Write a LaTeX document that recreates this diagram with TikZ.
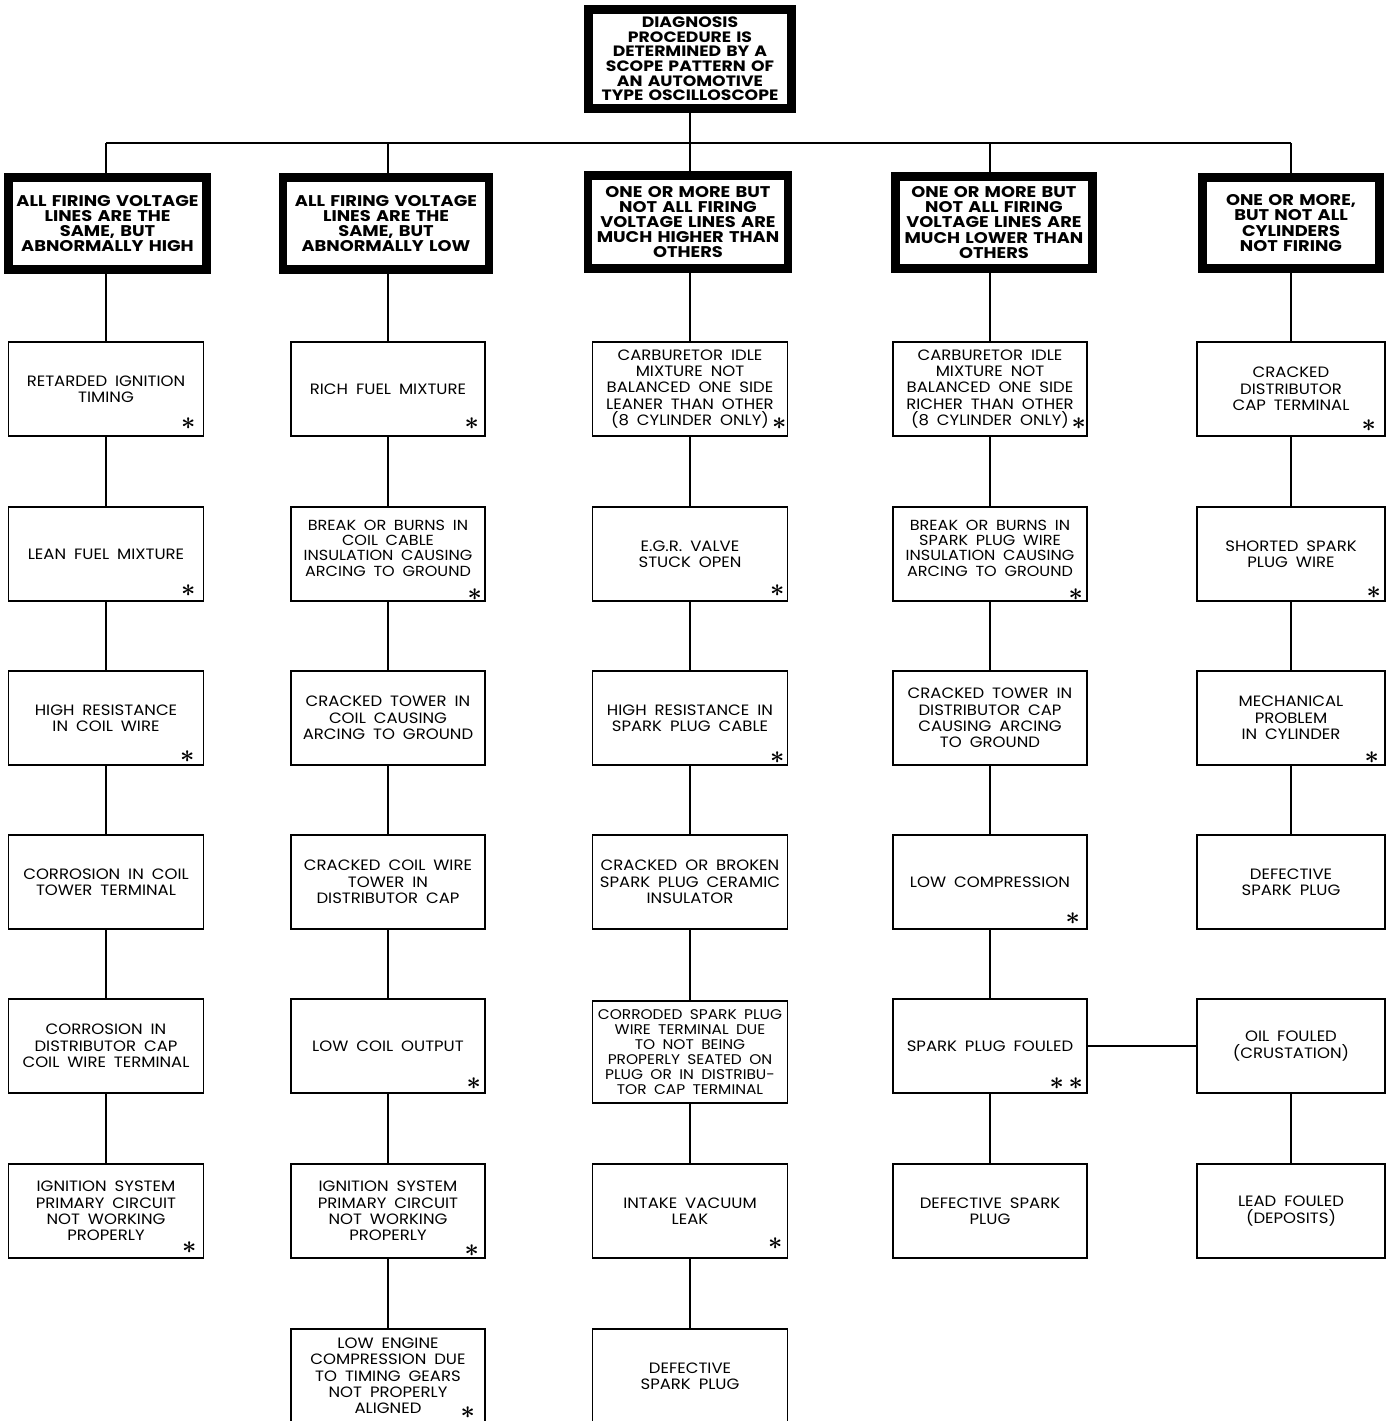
\documentclass[tikz,border=0pt]{standalone}
\usepackage{fontspec}
\setmainfont{Poppins}[FakeStretch=1.1, WordSpace=1.8]
\newfontfamily\hdrfont{Poppins}[FakeStretch=1.15, WordSpace=1.4]
\newcommand\myast{\mbox{\boldmath$\ast$}}
\begin{document}
\begin{tikzpicture}[x=1pt,y=-1pt,
  hdr/.style={draw, line width=8.5pt, align=center, inner sep=0pt, minimum height=92pt,
    font=\hdrfont\bfseries\fontsize{15.5}{15.2}\selectfont},
  cause/.style={draw, line width=1.4pt, minimum height=94pt, align=center, inner sep=0pt,
    font=\fontsize{15}{16.3}\selectfont},
  tight/.style={font=\fontsize{14.6}{15.3}\selectfont, text depth=12pt},
  star/.style={inner sep=0pt, font=\fontsize{27}{27}\selectfont},
  link/.style={line width=1.4pt}]
\clip (0,0) rectangle (1388,1421);
\fill[white] (0,0) rectangle (1388,1421);
% top box
\node[hdr, minimum width=203pt, minimum height=99pt, font=\hdrfont\bfseries\fontsize{15}{14.6}\selectfont] (top) at (690,59)
  {DIAGNOSIS\\PROCEDURE IS\\DETERMINED BY A\\SCOPE PATTERN OF\\AN AUTOMOTIVE\\TYPE OSCILLOSCOPE};
\coordinate (bar) at (690,143);
% headers
\node[hdr, minimum width=198pt] (h1) at (107.5,223.5) {ALL FIRING VOLTAGE\\LINES ARE THE\\SAME, BUT\\ABNORMALLY HIGH};
\node[hdr, minimum width=206pt] (h2) at (386,223.5) {ALL FIRING VOLTAGE\\LINES ARE THE\\SAME, BUT\\ABNORMALLY LOW};
\node[hdr, minimum width=200pt, minimum height=93pt] (h3) at (688,222) {ONE OR MORE BUT\\NOT ALL FIRING\\VOLTAGE LINES ARE\\MUCH HIGHER THAN\\OTHERS};
\node[hdr, minimum width=197pt] (h4) at (994,222.5) {ONE OR MORE BUT\\NOT ALL FIRING\\VOLTAGE LINES ARE\\MUCH LOWER THAN\\OTHERS};
\node[hdr, minimum width=177pt, minimum height=91pt] (h5) at (1291,223) {ONE OR MORE,\\BUT NOT ALL\\CYLINDERS\\NOT FIRING};
% column 1
\node[cause, minimum width=195pt] (r11) at (106,389) {RETARDED IGNITION\\TIMING};
\node[cause, minimum width=195pt] (r21) at (106,554) {LEAN FUEL MIXTURE};
\node[cause, minimum width=195pt] (r31) at (106,718) {HIGH RESISTANCE\\IN COIL WIRE};
\node[cause, minimum width=195pt] (r41) at (106,882) {CORROSION IN COIL\\TOWER TERMINAL};
\node[cause, minimum width=195pt] (r51) at (106,1046) {CORROSION IN\\DISTRIBUTOR CAP\\COIL WIRE TERMINAL};
\node[cause, minimum width=195pt] (r61) at (106,1211) {IGNITION SYSTEM\\PRIMARY CIRCUIT\\NOT WORKING\\PROPERLY};
% column 2
\node[cause, minimum width=194pt] (r12) at (388,389) {RICH FUEL MIXTURE};
\node[cause, tight, minimum width=194pt] (r22) at (388,554) {BREAK OR BURNS IN\\COIL CABLE\\INSULATION CAUSING\\ARCING TO GROUND};
\node[cause, minimum width=194pt] (r32) at (388,718) {CRACKED TOWER IN\\COIL CAUSING\\ARCING TO GROUND};
\node[cause, minimum width=194pt] (r42) at (388,882) {CRACKED COIL WIRE\\TOWER IN\\DISTRIBUTOR CAP};
\node[cause, minimum width=194pt] (r52) at (388,1046) {LOW COIL OUTPUT};
\node[cause, minimum width=194pt] (r62) at (388,1211) {IGNITION SYSTEM\\PRIMARY CIRCUIT\\NOT WORKING\\PROPERLY};
\node[cause, minimum width=194pt] (r72) at (388,1376) {LOW ENGINE\\COMPRESSION DUE\\TO TIMING GEARS\\NOT PROPERLY\\ALIGNED};
% column 3
\node[cause, minimum width=195pt] (r13) at (690,389) {CARBURETOR IDLE\\MIXTURE NOT\\BALANCED ONE SIDE\\LEANER THAN OTHER\\(8 CYLINDER ONLY)};
\node[cause, minimum width=195pt] (r23) at (690,554) {E.G.R. VALVE\\STUCK OPEN};
\node[cause, minimum width=195pt] (r33) at (690,718) {HIGH RESISTANCE IN\\SPARK PLUG CABLE};
\node[cause, minimum width=195pt] (r43) at (690,882) {CRACKED OR BROKEN\\SPARK PLUG CERAMIC\\INSULATOR};
\node[cause, minimum width=195pt, minimum height=102pt, font=\fontsize{14}{15}\selectfont] (r53) at (690,1052) {CORRODED SPARK PLUG\\WIRE TERMINAL DUE\\TO NOT BEING\\PROPERLY SEATED ON\\PLUG OR IN DISTRIBU-\\TOR CAP TERMINAL};
\node[cause, minimum width=195pt] (r63) at (690,1211) {INTAKE VACUUM\\LEAK};
\node[cause, minimum width=195pt] (r73) at (690,1376) {DEFECTIVE\\SPARK PLUG};
% column 4
\node[cause, minimum width=194pt] (r14) at (990,389) {CARBURETOR IDLE\\MIXTURE NOT\\BALANCED ONE SIDE\\RICHER THAN OTHER\\(8 CYLINDER ONLY)};
\node[cause, tight, minimum width=194pt] (r24) at (990,554) {BREAK OR BURNS IN\\SPARK PLUG WIRE\\INSULATION CAUSING\\ARCING TO GROUND};
\node[cause, minimum width=194pt] (r34) at (990,718) {CRACKED TOWER IN\\DISTRIBUTOR CAP\\CAUSING ARCING\\TO GROUND};
\node[cause, minimum width=194pt] (r44) at (990,882) {LOW COMPRESSION};
\node[cause, minimum width=194pt] (r54) at (990,1046) {SPARK PLUG FOULED};
\node[cause, minimum width=194pt] (r64) at (990,1211) {DEFECTIVE SPARK\\PLUG};
% column 5
\node[cause, minimum width=188pt] (r15) at (1291,389) {CRACKED\\DISTRIBUTOR\\CAP TERMINAL};
\node[cause, minimum width=188pt] (r25) at (1291,554) {SHORTED SPARK\\PLUG WIRE};
\node[cause, minimum width=188pt] (r35) at (1291,718) {MECHANICAL\\PROBLEM\\IN CYLINDER};
\node[cause, minimum width=188pt] (r45) at (1291,882) {DEFECTIVE\\SPARK PLUG};
\node[cause, minimum width=188pt] (r55) at (1291,1046) {OIL FOULED\\(CRUSTATION)};
\node[cause, minimum width=188pt] (r65) at (1291,1211) {LEAD FOULED\\(DEPOSITS)};
% asterisks
\node[star] (s11) at ([shift={(-16,-13)}]r11.south east) {\myast};
\node[star] (s21) at ([shift={(-16,-11)}]r21.south east) {\myast};
\node[star] (s31) at ([shift={(-17,-9)}]r31.south east) {\myast};
\node[star] (s61) at ([shift={(-15,-11)}]r61.south east) {\myast};
\node[star] (s12) at ([shift={(-14,-13)}]r12.south east) {\myast};
\node[star] (s22) at ([shift={(-11,-7)}]r22.south east) {\myast};
\node[star] (s52) at ([shift={(-12,-10)}]r52.south east) {\myast};
\node[star] (s62) at ([shift={(-14,-8)}]r62.south east) {\myast};
\node[star] (s72) at ([shift={(-18,-11)}]r72.south east) {\myast};
\node[star] (s13) at ([shift={(-9,-13)}]r13.south east) {\myast};
\node[star] (s23) at ([shift={(-11,-11)}]r23.south east) {\myast};
\node[star] (s33) at ([shift={(-11,-8)}]r33.south east) {\myast};
\node[star] (s63) at ([shift={(-13,-15)}]r63.south east) {\myast};
\node[star] (s14) at ([shift={(-9,-13)}]r14.south east) {\myast};
\node[star] (s24) at ([shift={(-12,-7)}]r24.south east) {\myast};
\node[star] (s44) at ([shift={(-15,-11)}]r44.south east) {\myast};
\node[star] (s54a) at ([shift={(-31,-10)}]r54.south east) {\myast};
\node[star] (s54b) at ([shift={(-12,-10)}]r54.south east) {\myast};
\node[star] (s15) at ([shift={(-17,-11)}]r15.south east) {\myast};
\node[star] (s25) at ([shift={(-12,-9)}]r25.south east) {\myast};
\node[star] (s35) at ([shift={(-14,-8)}]r35.south east) {\myast};
% connectors
\draw[link] (top.south) -- (bar);
\draw[link] (r11.north |- bar) -- (r15.north |- bar);
\foreach \c in {1,2,3,4,5}{
  \draw[link] (r1\c.north |- bar) -- (r1\c.north |- h\c.north);
  \draw[link] (r1\c.north |- h\c.south) -- (r1\c.north);
}
\foreach \c/\a/\b in {1/1/2,1/2/3,1/3/4,1/4/5,1/5/6,
                      2/1/2,2/2/3,2/3/4,2/4/5,2/5/6,2/6/7,
                      3/1/2,3/2/3,3/3/4,3/4/5,3/5/6,3/6/7,
                      4/1/2,4/2/3,4/3/4,4/4/5,4/5/6,
                      5/1/2,5/2/3,5/3/4,5/5/6}{
  \draw[link] (r\a\c.south) -- (r\b\c.north);
}
\draw[link] (r54.east) -- (r55.west);
\end{tikzpicture}
\end{document}
